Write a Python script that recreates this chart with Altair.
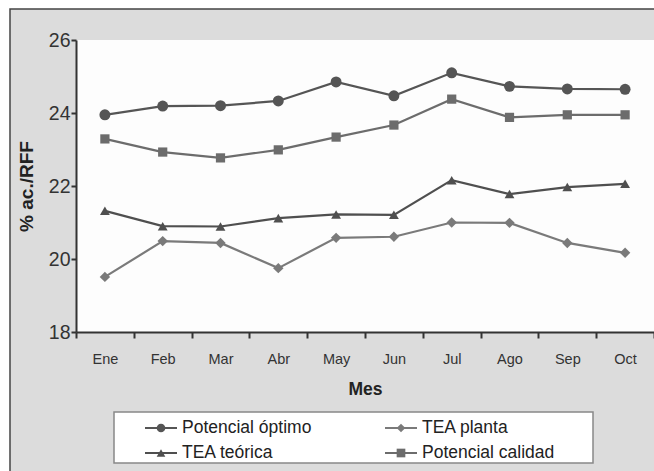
import altair as alt
import pandas as pd

meses = ["Ene", "Feb", "Mar", "Abr", "May", "Jun", "Jul", "Ago", "Sep", "Oct"]
potencial_optimo = [23.95, 24.19, 24.20, 24.33, 24.85, 24.47, 25.10, 24.73, 24.66, 24.65]
potencial_calidad = [23.29, 22.93, 22.77, 22.99, 23.34, 23.67, 24.38, 23.88, 23.95, 23.95]
tea_teorica = [21.32, 20.90, 20.89, 21.12, 21.22, 21.21, 22.16, 21.78, 21.97, 22.06]
tea_planta = [19.51, 20.49, 20.44, 19.75, 20.58, 20.61, 21.00, 20.99, 20.44, 20.17]

series = ["Potencial óptimo", "TEA planta", "TEA teórica", "Potencial calidad"]
valores = [potencial_optimo, tea_planta, tea_teorica, potencial_calidad]
colores = ["#555555", "#7a7a7a", "#4f4f4f", "#6c6c6c"]
formas = ["circle", "diamond", "triangle-up", "square"]
tamanos = [120, 85, 115, 100]

rows = []
for s, vals in zip(series, valores):
    for m, v in zip(meses, vals):
        rows.append({"Mes": m, "Serie": s, "Valor": v})
df = pd.DataFrame(rows)

leg_col = [0, 1, 0, 1]
leg_row = [0, 0, 1, 1]
leg = pd.DataFrame({"Serie": series, "col": leg_col, "row": leg_row})

FONT = "Liberation Sans"
W, H = 578, 292

color_scale = alt.Scale(domain=series, range=colores)
shape_scale = alt.Scale(domain=series, range=formas)
size_scale = alt.Scale(domain=series, range=tamanos)

one = pd.DataFrame({"a": [0]})

frame = alt.Chart(one).mark_rect(fill="#dcdcdc", stroke="#444444", strokeWidth=1.5).encode(
    x=alt.value(-66), x2=alt.value(640), y=alt.value(-31), y2=alt.value(480)
)
plotbg = alt.Chart(one).mark_rect(fill="#fdfdfd").encode(
    x=alt.value(0), x2=alt.value(W + 4), y=alt.value(0), y2=alt.value(H)
)

base = alt.Chart(df).encode(
    x=alt.X("Mes:N", sort=meses, bandPosition=0.5,
            scale=alt.Scale(type="band", paddingInner=0, paddingOuter=0),
            axis=alt.Axis(title="Mes", tickBand="extent", labelAngle=0,
                          labelFontSize=14.5, labelColor="#333333", labelPadding=14,
                          labelFont=FONT, tickSize=6, tickWidth=2, tickColor="#333333",
                          domainColor="#333333", domainWidth=2,
                          titleFont=FONT, titleFontSize=17.5, titleFontWeight="bold",
                          titleColor="#222222", titlePadding=15, zindex=1)),
    y=alt.Y("Valor:Q", scale=alt.Scale(domain=[18, 26], nice=False, zero=False),
            axis=alt.Axis(title="% ac./RFF", values=[18, 20, 22, 24, 26], grid=False,
                          labelFontSize=19.5, labelColor="#333333", labelFont=FONT,
                          labelPadding=1, tickSize=5, tickWidth=2, tickColor="#333333",
                          domainColor="#333333", domainWidth=2,
                          titleFont=FONT, titleFontSize=19, titleFontWeight="bold",
                          titleColor="#222222", titlePadding=12, zindex=1)),
    color=alt.Color("Serie:N", scale=color_scale, legend=None),
    detail="Serie:N",
)

lines = base.mark_line(strokeWidth=2.2)
points = base.mark_point(filled=True, opacity=1).encode(
    shape=alt.Shape("Serie:N", scale=shape_scale, legend=None),
    size=alt.Size("Serie:N", scale=size_scale, legend=None),
)
main = alt.layer(lines, points)

legbox = alt.Chart(one).mark_rect(fill="white", stroke="#888888", strokeWidth=1.5).encode(
    x=alt.value(38), x2=alt.value(517), y=alt.value(372), y2=alt.value(423)
)

lx = alt.X("col:Q", scale=alt.Scale(domain=[0, 1], range=[85, 325]), axis=None)
ly = alt.Y("row:Q", scale=alt.Scale(domain=[0, 1], range=[388, 413]), axis=None)
legbase = alt.Chart(leg).encode(x=lx, y=ly)
leglines = legbase.mark_rule(strokeWidth=2, xOffset=-16, x2Offset=16).encode(
    x2="col:Q", color=alt.Color("Serie:N", scale=color_scale, legend=None)
)
legpts = legbase.mark_point(filled=True, opacity=1).encode(
    shape=alt.Shape("Serie:N", scale=shape_scale, legend=None),
    color=alt.Color("Serie:N", scale=color_scale, legend=None),
    size=alt.value(75),
)
legtext = legbase.mark_text(align="left", baseline="middle", dx=21, fontSize=17.5,
                            font=FONT, color="#222222").encode(text="Serie:N")

legend_layer = alt.layer(leglines, legpts, legtext)

chart = alt.layer(frame, plotbg, main, legbox, legend_layer).resolve_scale(
    x="independent", y="independent"
).properties(
    width=W, height=H,
    padding={"left": 76, "top": 40, "right": 0, "bottom": 139},
    autosize=alt.AutoSizeParams(type="none"),
    background="white",
).configure_view(stroke=None)

chart.save("out.html", embed_options={"renderer": "svg", "actions": False})
